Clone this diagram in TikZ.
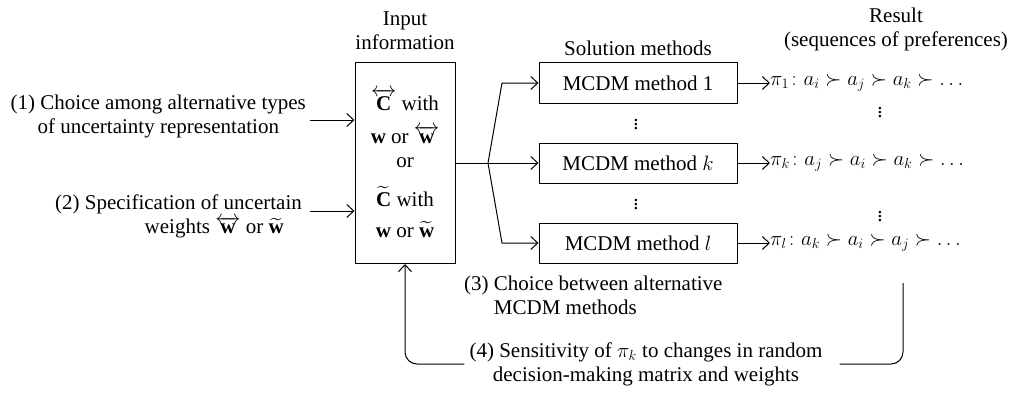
\documentclass[tikz,border=0pt]{standalone}
\usepackage{amsmath,amssymb}
\usepackage{fontspec}
\setmainfont{Liberation Serif}
\usetikzlibrary{arrows.meta}
\begin{document}
\begin{tikzpicture}[x=1pt,y=-1pt,
  every node/.style={font=\fontsize{21}{24}\selectfont, inner sep=0pt},
  conn/.style={line width=1pt},
  arr/.style={conn, -{Straight Barb[length=7pt,width=13pt,line width=1pt]}},
  methodbox/.style={draw, line width=1pt, minimum width=198pt, minimum height=40pt},
  inputbox/.style={draw, line width=1pt, minimum width=100pt, minimum height=201pt, align=center}]
\useasboundingbox (0,0) rectangle (1014,396);

% headers
\node[align=center] (hin) at (405,31) {Input\\information};
\node (hsol) at (638,48) {Solution methods};
\node[align=center] (hres) at (896,29) {Result\\(sequences of preferences)};

% input box
\node[inputbox] (inbox) at (405,163) {$\overleftrightarrow{\mathbf{C}}$\ with\\[9pt]
$\mathbf{w}$ or $\overleftrightarrow{\mathbf{w}}$\\[0pt]
or\\[15pt]
$\widetilde{\mathbf{C}}$ with\\[7pt]
$\mathbf{w}$ or $\widetilde{\mathbf{w}}$};

% left labels
\node[align=center, anchor=east] (t1) at (306,116) {(1) Choice among alternative types\\of uncertainty representation};
\coordinate (a1) at (310,120);
\draw[arr] (a1) -- (a1 -| inbox.west);

\node[align=right, anchor=north east] (t2) at (302,195) {(2) Specification of uncertain\\weights $\overleftrightarrow{\mathbf{w}}$ or $\widetilde{\mathbf{w}}$\hspace*{18pt}};
\coordinate (a2) at (310,211);
\draw[arr] (a2) -- (a2 -| inbox.west);

% method boxes
\node[methodbox] (m1) at (638,83) {MCDM method 1};
\node[methodbox] (m2) at (638,163) {MCDM method $k$};
\node[methodbox] (m3) at (638,243) {MCDM method $l$};
\node (d1) at (636,122) {$\vdots$};
\node (d2) at (636,202) {$\vdots$};

% branch
\coordinate (br) at (488,163);
\coordinate (bt) at (502,83);
\coordinate (bb) at (502,243);
\draw[conn] (inbox.east |- br) -- (br);
\draw[arr] (br) -- (bt) -- (m1.west);
\draw[arr] (br) -- (m2.west);
\draw[arr] (br) -- (bb) -- (m3.west);

% results
\node[anchor=west] (p1) at (770,83) {$\pi_1\colon a_i \succ a_j \succ a_k \succ \ldots$};
\node[anchor=west] (p2) at (770,163) {$\pi_k\colon a_j \succ a_i \succ a_k \succ \ldots$};
\node[anchor=west] (p3) at (770,243) {$\pi_l\colon a_k \succ a_i \succ a_j \succ \ldots$};
\node (r1) at (880,110) {$\vdots$};
\node (r2) at (880,214) {$\vdots$};
\draw[arr] (m1.east) -- (m1.east -| p1.west);
\draw[arr] (m2.east) -- (m2.east -| p2.west);
\draw[arr] (m3.east) -- (m3.east -| p3.west);

% bottom labels
\node[align=left, anchor=north west] (t3) at (464,276) {(3) Choice between alternative\\\hphantom{(3) }MCDM methods};
\node[align=center] (t4) at (646,364) {(4) Sensitivity of $\pi_k$ to changes in random\\decision-making matrix and weights};

% feedback
\coordinate (fbtop) at (903,283);
\draw[conn, rounded corners=12pt] (fbtop) |- ([xshift=17pt]t4.east);
\draw[arr, rounded corners=12pt] ([xshift=-5pt]t4.west) -| (inbox.south);
\end{tikzpicture}
\end{document}
